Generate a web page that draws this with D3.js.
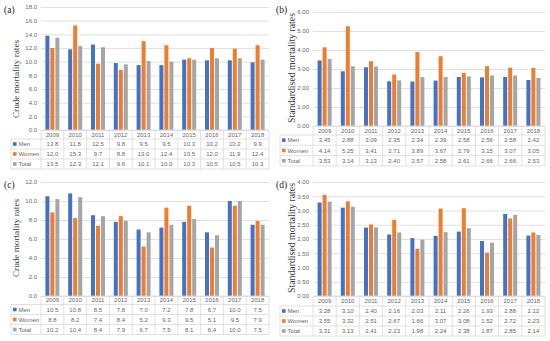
<!DOCTYPE html>
<meta charset="utf-8">
<style>
body { margin: 0; background: #fff; }
svg { display: block; font-family: "Liberation Sans", Arial, sans-serif; }
.tick text, .cell { fill: #666; font-size: 6px; }
.ytitle { font-family: "Liberation Serif", serif; fill: #3a3a3a; }
.plabel { font-family: "Liberation Serif", serif; font-size: 9.5px; fill: #222; }
</style>
<svg width="550" height="341"></svg>
<script src="https://d3js.org/d3.v7.min.js"></script>
<script>
var years = ["2009","2010","2011","2012","2013","2014","2015","2016","2017","2018"];
var series = ["Men","Women","Total"];
var colors = ["#4472C4","#ED7D31","#A5A5A5"];

// (a) crude mortality rates
var crudeMenA   = [13.8,11.8,12.5,9.8,9.5,9.5,10.3,10.2,10.2,9.9];
var crudeWomenA = [12.0,15.3,9.7,8.8,13.0,12.4,10.5,12.0,11.9,12.4];
var crudeTotalA = [13.5,12.3,12.1,9.6,10.1,10.0,10.3,10.5,10.5,10.3];
// (b) standardised mortality rates
var stdMenB   = [3.45,2.88,3.09,2.35,2.34,2.39,2.58,2.56,2.58,2.42];
var stdWomenB = [4.14,5.25,3.41,2.71,3.89,3.67,2.79,3.15,3.07,3.05];
var stdTotalB = [3.53,3.14,3.13,2.40,2.57,2.58,2.61,2.66,2.66,2.53];
// (c) crude mortality rates
var crudeMenC   = [10.5,10.8,8.5,7.8,7.0,7.2,7.8,6.7,10.0,7.5];
var crudeWomenC = [8.8,8.2,7.4,8.4,5.2,9.3,9.5,5.1,9.5,7.9];
var crudeTotalC = [10.2,10.4,8.4,7.9,6.7,7.5,8.1,6.4,10.0,7.5];
// (d) standardised mortality rates
var stdMenD   = [3.28,3.10,2.40,2.16,2.03,2.11,2.26,1.93,2.88,2.12];
var stdWomenD = [3.55,3.32,2.51,2.67,1.66,3.07,3.08,1.52,2.72,2.23];
var stdTotalD = [3.31,3.13,2.41,2.23,1.98,2.24,2.38,1.87,2.85,2.14];

var ticksA = [0,2,4,6,8,10,12,14,16,18];
var ticksB = [0,1,2,3,4,5,6];
var ticksC = [0,2,4,6,8,10,12];
var ticksD = [0,0.5,1,1.5,2,2.5,3,3.5,4];

var svg = d3.select("svg");

function panel(p) {
  var g = svg.append("g");
  var x = d3.scaleBand().domain(years).range([p.x0, p.x1]);
  var xs = d3.scaleBand().domain(series).range([-7, 7]).paddingInner(0.2);
  var y = d3.scaleLinear().domain([0, d3.max(p.ticks)]).range([p.y0, p.y1]);
  var fmt = d3.format(p.fmt);

  // gridlines + tick labels
  g.append("g").attr("transform", "translate(" + p.x0 + ",0)")
    .call(d3.axisLeft(y).tickValues(p.ticks).tickFormat(fmt).tickSize(-(p.x1 - p.x0)).tickPadding(4))
    .call(function(a) { a.select(".domain").remove(); })
    .call(function(a) { a.selectAll("line").attr("stroke", "#D9D9D9").attr("stroke-width", 0.8); })
    .call(function(a) { a.selectAll("text").attr("font-family", "Liberation Sans, Arial, sans-serif").attr("font-size", 6); });

  // bars
  series.forEach(function(s, k) {
    g.selectAll(null).data(p.values[k]).enter().append("rect")
      .attr("x", function(d, i) { return x(years[i]) + x.bandwidth() / 2 + xs(s); })
      .attr("y", function(d) { return y(d); })
      .attr("width", xs.bandwidth())
      .attr("height", function(d) { return y(0) - y(d); })
      .attr("fill", colors[k]);
  });

  // data table
  var t = g.append("g");
  var top = p.y0, hb = p.y0 + p.hh, bottom = hb + 3 * p.rh;
  var line = function(x1, y1, x2, y2) {
    t.append("line").attr("x1", x1).attr("y1", y1).attr("x2", x2).attr("y2", y2)
      .attr("stroke", "#D9D9D9").attr("stroke-width", 0.8);
  };
  line(p.x0, top, p.x1, top);
  for (var r = 0; r <= 3; r++) line(p.tl, hb + r * p.rh, p.x1, hb + r * p.rh);
  line(p.tl, hb, p.tl, bottom);
  years.forEach(function(yr, i) { line(x(yr), top, x(yr), bottom); });
  line(p.x1, top, p.x1, bottom);

  t.selectAll(null).data(years).enter().append("text").attr("class", "cell")
    .attr("x", function(d) { return x(d) + x.bandwidth() / 2; })
    .attr("y", top + p.hh / 2).attr("dy", "0.35em").attr("text-anchor", "middle")
    .text(function(d) { return d; });

  series.forEach(function(s, k) {
    var cy = hb + k * p.rh + p.rh / 2;
    t.append("rect").attr("x", p.tl + 2).attr("y", cy - 1.8).attr("width", 3.6).attr("height", 3.6).attr("fill", colors[k]);
    t.append("text").attr("class", "cell").attr("x", p.tl + 7.5).attr("y", cy).attr("dy", "0.35em").text(s);
    t.selectAll(null).data(p.values[k]).enter().append("text").attr("class", "cell")
      .attr("x", function(d, i) { return x(years[i]) + x.bandwidth() / 2; })
      .attr("y", cy).attr("dy", "0.35em").attr("text-anchor", "middle")
      .text(function(d) { return fmt(d); });
  });

  // titles
  g.append("text").attr("class", "ytitle").attr("text-anchor", "middle")
    .attr("font-size", p.ts)
    .attr("transform", "translate(" + p.tx + "," + p.ty + ") rotate(-90)")
    .attr("dy", "0.35em").text(p.title);
  g.append("text").attr("class", "plabel").attr("x", p.lx).attr("y", p.ly).attr("dy", "0.35em").text(p.label);
}

panel({label: "(a)", title: "Crude mortality rates", values: [crudeMenA, crudeWomenA, crudeTotalA], ticks: ticksA, fmt: ".1f",
  x0: 41, x1: 269, y0: 130, y1: 7, tl: 11, hh: 9, rh: 10, tx: 16, ty: 79, ts: 9.2, lx: 4, ly: 10});
panel({label: "(b)", title: "Standardised mortality rates", values: [stdMenB, stdWomenB, stdTotalB], ticks: ticksB, fmt: ".2f",
  x0: 313, x1: 545, y0: 126, y1: 12, tl: 280, hh: 9, rh: 10.3, tx: 292, ty: 68, ts: 9.8, lx: 276, ly: 10});
panel({label: "(c)", title: "Crude mortality rates", values: [crudeMenC, crudeWomenC, crudeTotalC], ticks: ticksC, fmt: ".1f",
  x0: 41, x1: 269, y0: 296, y1: 182, tl: 11, hh: 8.5, rh: 10, tx: 16, ty: 238, ts: 9.2, lx: 4, ly: 185});
panel({label: "(d)", title: "Standardised mortality rates", values: [stdMenD, stdWomenD, stdTotalD], ticks: ticksD, fmt: ".2f",
  x0: 313, x1: 545, y0: 296, y1: 182, tl: 280, hh: 10, rh: 10, tx: 292, ty: 238, ts: 9.8, lx: 276, ly: 185});
</script>
